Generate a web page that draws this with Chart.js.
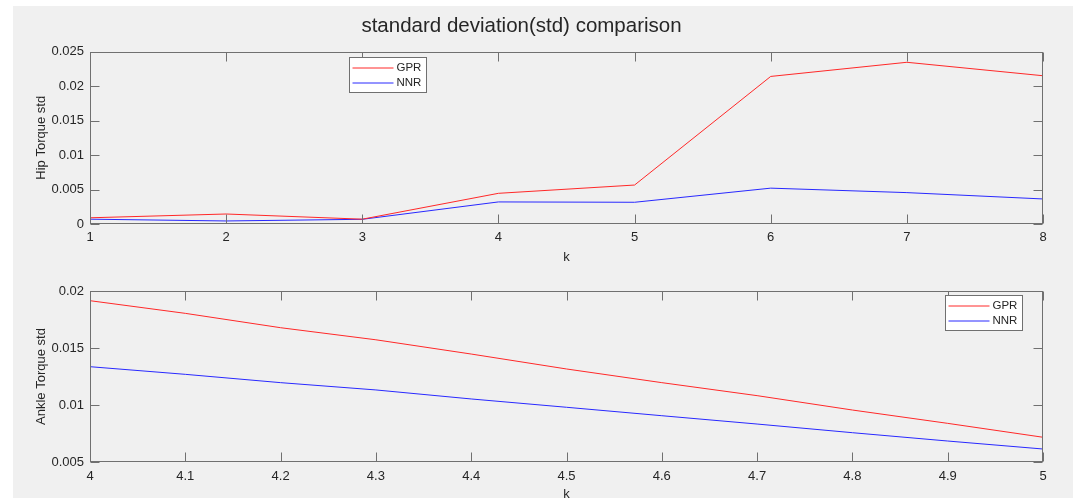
<!DOCTYPE html>
<html>
<head>
<meta charset="utf-8">
<script src="https://cdn.jsdelivr.net/npm/chart.js@4.4.0/dist/chart.umd.min.js"></script>
<style>
    html, body { margin: 0; padding: 0; background: #fff; overflow: hidden; width: 1073px; height: 498px; }
    #fundo { position: absolute; left: 13px; top: 6px; right: 0; bottom: 0; background: #f0f0f0; }
    #graficoQuadril { position: absolute; left: 0; top: 0; }
    #graficoTornozelo { position: absolute; left: 0; top: 262px; }
</style>
</head>
<body>
<div id="fundo"></div>
<canvas id="graficoQuadril" width="1073" height="275"></canvas>
<canvas id="graficoTornozelo" width="1073" height="250"></canvas>
<script>
// Dados
const hipK = [1, 2, 3, 4, 5, 6, 7, 8];
const hipGPR = [0.0009, 0.00145, 0.0007, 0.00445, 0.00565, 0.0214, 0.02345, 0.0215];
const hipNNR = [0.0007, 0.00044, 0.00068, 0.0032, 0.00315, 0.0052, 0.00455, 0.00363];

const ankleK = [4.0, 4.1, 4.2, 4.3, 4.4, 4.5, 4.6, 4.7, 4.8, 4.9, 5.0];
const ankleGPR = [0.01915, 0.01804, 0.01678, 0.01572, 0.01447, 0.01316, 0.01196, 0.01082, 0.00956, 0.00839, 0.00717];
const ankleNNR = [0.01336, 0.01269, 0.01196, 0.01132, 0.01053, 0.0098, 0.00906, 0.00833, 0.00757, 0.00684, 0.00614];

const serieNomes = ['GPR', 'NNR'];
const serieCores = ['#ff2828', '#2828ff'];

const corEixo = '#707070';
const corTexto = '#262626';
const fonte = "'Liberation Sans', Arial, sans-serif";

function pontos(xs, ys) {
    return xs.map((x, i) => ({ x: x, y: ys[i] }));
}

function formatar(v, casas) {
    return String(Number(v.toFixed(casas)));
}

// Caixa, ticks internos e legenda no estilo MATLAB
const eixoMatlab = {
    id: 'eixoMatlab',
    afterDraw(chart, args, opts) {
        const { ctx, chartArea: a, scales } = chart;
        const esq = Math.round(a.left) + 0.5, dir = Math.round(a.right) - 0.5;
        const topo = Math.round(a.top) + 0.5, base = Math.round(a.bottom) - 0.5;
        const tam = 9;
        ctx.save();
        ctx.strokeStyle = corEixo;
        ctx.lineWidth = 1;
        ctx.beginPath();
        scales.x.ticks.forEach(t => {
            const px = Math.round(scales.x.getPixelForValue(t.value)) + 0.5;
            ctx.moveTo(px, base); ctx.lineTo(px, base - tam);
            ctx.moveTo(px, topo); ctx.lineTo(px, topo + tam);
        });
        scales.y.ticks.forEach(t => {
            const py = Math.round(scales.y.getPixelForValue(t.value)) + 0.5;
            ctx.moveTo(esq, py); ctx.lineTo(esq + tam, py);
            ctx.moveTo(dir, py); ctx.lineTo(dir - tam, py);
        });
        ctx.stroke();
        ctx.strokeRect(esq, topo, dir - esq, base - topo);

        // legenda
        const larg = 77, alt = 35;
        const lx = opts.direita !== undefined ? Math.round(a.right - opts.direita - larg) + 0.5 : Math.round(a.left + opts.esquerda) + 0.5;
        const ly = Math.round(a.top + opts.topo) + 0.5;
        ctx.fillStyle = '#fff';
        ctx.fillRect(lx, ly, larg, alt);
        ctx.strokeStyle = corEixo;
        ctx.strokeRect(lx, ly, larg, alt);
        ctx.font = '11.5px ' + fonte;
        ctx.textBaseline = 'middle';
        chart.data.datasets.forEach((ds, i) => {
            const yy = Math.round(ly + 10 + i * 15);
            ctx.strokeStyle = serieCores[i];
            ctx.beginPath();
            ctx.moveTo(lx + 3, yy);
            ctx.lineTo(lx + 44, yy);
            ctx.stroke();
            ctx.fillStyle = corTexto;
            ctx.fillText(ds.label, lx + 47, yy);
        });
        ctx.restore();
    }
};

function criarGrafico(id, xs, series, cfg) {
    const ctx = document.getElementById(id).getContext('2d');
    return new Chart(ctx, {
        type: 'line',
        data: {
            datasets: series.map((ys, i) => ({
                label: serieNomes[i],
                data: pontos(xs, ys),
                borderColor: serieCores[i],
                borderWidth: 1,
                pointRadius: 0,
                tension: 0,
                fill: false
            }))
        },
        options: {
            responsive: false,
            animation: false,
            layout: { padding: { left: 0, right: 30, top: cfg.padTopo, bottom: 0 } },
            plugins: {
                legend: { display: false },
                tooltip: { enabled: false },
                title: cfg.titulo ? {
                    display: true,
                    text: cfg.titulo,
                    color: corTexto,
                    font: { family: fonte, size: 20.5, weight: 'normal' },
                    padding: { top: 14, bottom: 13 }
                } : { display: false },
                eixoMatlab: cfg.legenda
            },
            scales: {
                x: {
                    type: 'linear',
                    min: cfg.xMin, max: cfg.xMax,
                    grid: { display: false, drawTicks: false },
                    border: { display: false },
                    ticks: {
                        stepSize: cfg.xPasso,
                        color: corTexto,
                        padding: cfg.xPad,
                        maxRotation: 0,
                        font: { family: fonte, size: 13 },
                        callback: v => formatar(v, 1)
                    },
                    title: {
                        display: true, text: 'k', color: corTexto,
                        font: { family: fonte, size: 13 },
                        padding: { top: 0, bottom: cfg.kPad }
                    },
                    afterFit: s => { s.height = cfg.xAltura; }
                },
                y: {
                    min: cfg.yMin, max: cfg.yMax,
                    grid: { display: false, drawTicks: false },
                    border: { display: false },
                    ticks: {
                        stepSize: 0.005,
                        color: corTexto,
                        padding: 6,
                        font: { family: fonte, size: 13 },
                        callback: v => formatar(v, 3)
                    },
                    title: {
                        display: true, text: cfg.yTitulo, color: corTexto,
                        font: { family: fonte, size: 13 },
                        padding: { top: 34, bottom: 0 }
                    },
                    afterFit: s => { s.width = 90; }
                }
            }
        },
        plugins: [eixoMatlab]
    });
}

criarGrafico('graficoQuadril', hipK, [hipGPR, hipNNR], {
    titulo: 'standard deviation(std) comparison',
    padTopo: 0,
    xMin: 1, xMax: 8, xPasso: 1, xPad: 6, xAltura: 51, kPad: 10,
    yMin: 0, yMax: 0.025,
    yTitulo: 'Hip Torque std',
    legenda: { esquerda: 259, topo: 5 }
});

criarGrafico('graficoTornozelo', ankleK, [ankleGPR, ankleNNR], {
    titulo: null,
    padTopo: 29,
    xMin: 4, xMax: 5, xPasso: 0.1, xPad: 7, xAltura: 50, kPad: 10,
    yMin: 0.005, yMax: 0.02,
    yTitulo: 'Ankle Torque std',
    legenda: { direita: 21, topo: 4 }
});
</script>
</body>
</html>
